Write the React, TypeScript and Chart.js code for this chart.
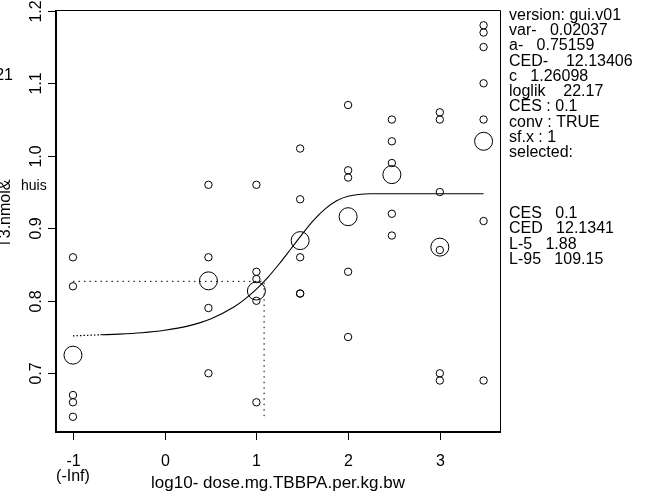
import React, { useEffect, useRef } from "react";
import { Chart, registerables } from "chart.js";

Chart.register(...registerables);

// ---- data ----
const doseLog = [-1, 0.477, 1, 1.477, 2, 2.477, 3, 3.477];
const observations = [
  [0.86, 0.82, 0.67, 0.66, 0.64],
  [0.96, 0.86, 0.79, 0.7],
  [0.96, 0.84, 0.83, 0.8, 0.66],
  [1.01, 0.94, 0.86, 0.81, 0.81],
  [1.07, 0.98, 0.97, 0.84, 0.75],
  [1.05, 1.02, 0.99, 0.92, 0.89],
  [1.06, 1.05, 0.95, 0.87, 0.7, 0.69],
  [1.18, 1.17, 1.15, 1.1, 1.05, 0.91, 0.69],
];
const groupMeans = [0.725, 0.8275, 0.8135, 0.883, 0.916, 0.974, 0.874, 1.02];

const curveX = [-0.7, -0.5, -0.25, 0, 0.25, 0.5, 0.75, 0.875, 1, 1.125, 1.25, 1.375, 1.5, 1.625, 1.75, 1.875, 2, 2.25, 2.5, 3, 3.477];
const curveY = [0.7531, 0.754, 0.7559, 0.7593, 0.765, 0.7748, 0.791, 0.8022, 0.816, 0.8324, 0.8511, 0.8714, 0.892, 0.9112, 0.9268, 0.9379, 0.9441, 0.9476, 0.9477, 0.9477, 0.9477];

const baselineX = [-1, -0.7];
const baselineY = [0.7516, 0.7531];

const cedX = [-1, 1.084, 1.084];
const cedY = [0.8268, 0.8268, 0.64];

const xTicks = [-1, 0, 1, 2, 3];
const xTickLabels = ["-1", "0", "1", "2", "3"];
const yTicks = [0.7, 0.8, 0.9, 1.0, 1.1, 1.2];
const yTickLabels = ["0.7", "0.8", "0.9", "1.0", "1.1", "1.2"];

const xTitle = "log10- dose.mg.TBBPA.per.kg.bw";
const infLabel = "(-Inf)";
const yTitle = "T3.nmol&";
const yTitleFragment = "huis";
const cornerFragment = "21";

const infoLines = [
  "version: gui.v01",
  "var-   0.02037",
  "a-   0.75159",
  "CED-    12.13406",
  "c   1.26098",
  "loglik    22.17",
  "CES : 0.1",
  "conv : TRUE",
  "sf.x : 1",
  "selected:",
  "",
  "",
  "",
  "CES   0.1",
  "CED   12.1341",
  "L-5   1.88",
  "L-95   109.15",
];

const FONT = "Liberation Sans, Arial, Helvetica, sans-serif";

const rPlotPlugin = {
  id: "rPlot",
  beforeDraw(chart: any) {
    const ctx = chart.ctx;
    ctx.save();
    ctx.fillStyle = "#fff";
    ctx.fillRect(0, 0, chart.width, chart.height);
    ctx.restore();
  },
  afterDraw(chart: any) {
    const ctx = chart.ctx;
    const area = chart.chartArea;
    const xs = chart.scales.x;
    const ys = chart.scales.y;
    ctx.save();
    ctx.strokeStyle = "#000";
    ctx.fillStyle = "#000";

    // box
    ctx.lineWidth = 1;
    ctx.beginPath();
    ctx.moveTo(area.left, area.top + 0.5);
    ctx.lineTo(area.right + 0.5, area.top + 0.5);
    ctx.lineTo(area.right + 0.5, area.bottom);
    ctx.stroke();
    ctx.lineWidth = 2;
    ctx.beginPath();
    ctx.moveTo(area.left, area.top);
    ctx.lineTo(area.left, area.bottom);
    ctx.lineTo(area.right + 1, area.bottom);
    ctx.stroke();

    // x ticks
    ctx.lineWidth = 1;
    ctx.font = `16px ${FONT}`;
    ctx.textAlign = "center";
    ctx.textBaseline = "alphabetic";
    xTicks.forEach((t, i) => {
      const px = Math.round(xs.getPixelForValue(t)) + 0.5;
      ctx.beginPath();
      ctx.moveTo(px, area.bottom);
      ctx.lineTo(px, area.bottom + 8);
      ctx.stroke();
      ctx.fillText(xTickLabels[i], px, area.bottom + 34);
    });
    ctx.fillText(infLabel, xs.getPixelForValue(-1), area.bottom + 49);
    ctx.font = `17px ${FONT}`;
    ctx.fillText(xTitle, (area.left + area.right) / 2, area.bottom + 56);
    ctx.font = `16px ${FONT}`;

    // y ticks (rotated labels like R)
    yTicks.forEach((t, i) => {
      const py = Math.round(ys.getPixelForValue(t)) + 0.5;
      ctx.beginPath();
      ctx.moveTo(area.left - 8, py);
      ctx.lineTo(area.left, py);
      ctx.stroke();
      ctx.save();
      ctx.translate(area.left - 15.5, py);
      ctx.rotate(-Math.PI / 2);
      ctx.textAlign = "center";
      ctx.fillText(yTickLabels[i], 0, 0);
      ctx.restore();
    });

    // y title (rotated, clipped at the left edge)
    ctx.save();
    ctx.translate(10, 248);
    ctx.rotate(-Math.PI / 2);
    ctx.textAlign = "left";
    ctx.fillText(yTitle, 0, 0);
    ctx.restore();

    ctx.font = `14px ${FONT}`;
    ctx.textAlign = "left";
    ctx.fillText(yTitleFragment, 21, 190);
    ctx.font = `16px ${FONT}`;
    ctx.textAlign = "right";
    ctx.fillText(cornerFragment, 13, 80);

    // info text at right
    ctx.textAlign = "left";
    ctx.textBaseline = "middle";
    infoLines.forEach((line, i) => {
      if (line) ctx.fillText(line, area.right + 9, 15.5 + 15.25 * i);
    });
    ctx.restore();
  },
};

export default function App() {
  const ref = useRef<HTMLCanvasElement | null>(null);

  useEffect(() => {
    if (!ref.current) return;
    const obsPoints: { x: number; y: number }[] = [];
    observations.forEach((vals, gi) => {
      vals.forEach((v) => obsPoints.push({ x: doseLog[gi], y: v }));
    });
    const meanPoints = groupMeans.map((m, i) => ({ x: doseLog[i], y: m }));
    const curvePoints = curveX.map((x, i) => ({ x, y: curveY[i] }));
    const basePoints = baselineX.map((x, i) => ({ x, y: baselineY[i] }));
    const cedPoints = cedX.map((x, i) => ({ x, y: cedY[i] }));

    const chart = new Chart(ref.current, {
      type: "scatter",
      data: {
        datasets: [
          {
            label: "observations",
            data: obsPoints,
            pointRadius: 3.7,
            pointBorderWidth: 1,
            pointBorderColor: "#000",
            pointBackgroundColor: "rgba(0,0,0,0)",
            showLine: false,
          },
          {
            label: "group means",
            data: meanPoints,
            pointRadius: 9,
            pointBorderWidth: 1,
            pointBorderColor: "#000",
            pointBackgroundColor: "rgba(0,0,0,0)",
            showLine: false,
          },
          {
            label: "fit",
            data: curvePoints,
            showLine: true,
            pointRadius: 0,
            borderWidth: 1.1,
            borderColor: "#000",
            cubicInterpolationMode: "monotone",
            fill: false,
          },
          {
            label: "background",
            data: basePoints,
            showLine: true,
            pointRadius: 0,
            borderWidth: 1.2,
            borderColor: "#000",
            borderDash: [1.5, 2],
            fill: false,
          },
          {
            label: "CED",
            data: cedPoints,
            showLine: true,
            pointRadius: 0,
            borderWidth: 1,
            borderColor: "#000",
            borderDash: [1.5, 4],
            fill: false,
          },
        ],
      },
      options: {
        responsive: false,
        animation: false,
        events: [],
        layout: { padding: { left: 56, top: 10, right: 155, bottom: 71 } },
        plugins: { legend: { display: false }, tooltip: { enabled: false } },
        scales: {
          x: { type: "linear", display: false, min: -1.185, max: 3.656 },
          y: { type: "linear", display: false, min: 0.619, max: 1.2011 },
        },
      },
      plugins: [rPlotPlugin],
    });
    return () => chart.destroy();
  }, []);

  return (
    <div style={{ position: "absolute", left: 0, top: 0, width: 655, height: 503, background: "#fff" }}>
      <canvas ref={ref} width={655} height={503} style={{ display: "block" }} />
    </div>
  );
}
